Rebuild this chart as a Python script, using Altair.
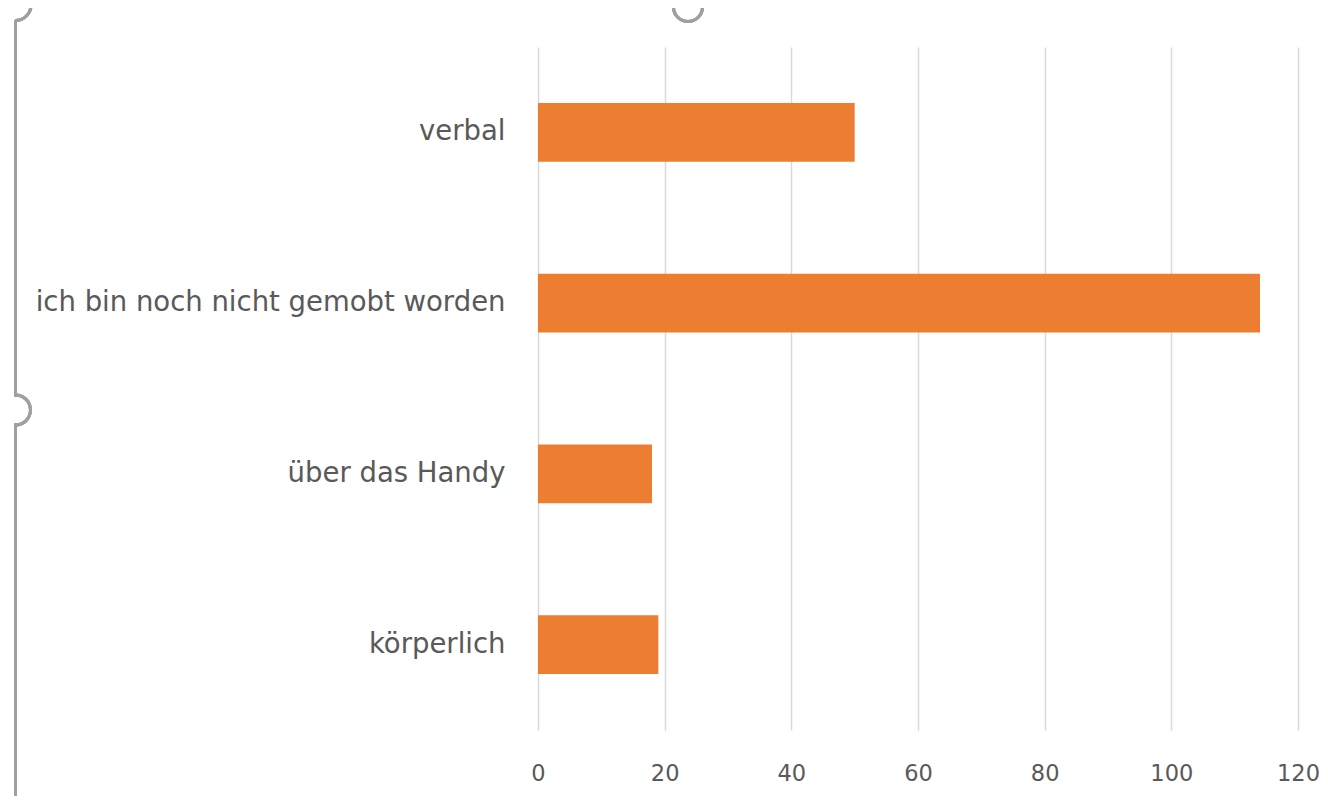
import altair as alt
import pandas as pd
import math

categories = ["verbal", "ich bin noch nicht gemobt worden", "über das Handy", "körperlich"]
values = [50, 114, 18, 19]
x_ticks = [0, 20, 40, 60, 80, 100, 120]

df = pd.DataFrame({"Kategorie": categories, "Anzahl": values})

TEXT = "#595959"
GRID = "#D9D9D9"
ORANGE = "#ED7D31"
HANDLE = "#A0A0A0"
FONT = "DejaVu Sans"

bars = alt.Chart(df).mark_bar(color=ORANGE).encode(
    x=alt.X("Anzahl:Q",
            scale=alt.Scale(domain=[0, 120], nice=False),
            axis=alt.Axis(values=x_ticks, title=None, domain=False, ticks=False, tickSize=0,
                          grid=True, gridColor=GRID, gridWidth=1.5,
                          labelFont=FONT, labelFontSize=22.5, labelColor=TEXT,
                          labelFlush=False, labelAlign="center",
                          labelPadding=32)),
    y=alt.Y("Kategorie:N", sort=categories,
            scale=alt.Scale(paddingInner=0.655, paddingOuter=0.3275),
            axis=alt.Axis(title=None, domain=False, ticks=False, tickSize=0, grid=False,
                          labelFont=FONT, labelFontSize=27.5, labelColor=TEXT,
                          labelPadding=33, labelLimit=600)),
)

# Decorative selection-handle frame (drawn in pixel space, not data)
seg1 = alt.Chart(df).mark_rule(color=HANDLE, strokeWidth=3).encode(
    x=alt.value(-522.5), y=alt.value(-27), y2=alt.value(350))
seg2 = alt.Chart(df).mark_rule(color=HANDLE, strokeWidth=3).encode(
    x=alt.value(-522.5), y=alt.value(376), y2=alt.value(760))
mid_arc = alt.Chart(df).mark_arc(color=HANDLE, radius=16.5, radius2=13.5,
                                  theta=0, theta2=math.pi).encode(
    x=alt.value(-522.5), y=alt.value(363))
top_left_arc = alt.Chart(df).mark_arc(color=HANDLE, radius=17, radius2=14,
                                       theta=math.pi / 2, theta2=math.pi).encode(
    x=alt.value(-522.5), y=alt.value(-42))
top_arc = alt.Chart(df).mark_arc(color=HANDLE, radius=16, radius2=13,
                                  theta=math.pi / 2, theta2=3 * math.pi / 2).encode(
    x=alt.value(150), y=alt.value(-40))

chart = alt.layer(bars, seg1, seg2, mid_arc, top_left_arc, top_arc).properties(
    width=760, height=683,
    padding={"left": 530, "top": 39, "right": 22, "bottom": 66},
    autosize=alt.AutoSizeParams(type="none"),
    background="white",
).configure_view(stroke=None)

chart.save("out.html", embed_options={"renderer": "svg", "actions": False})
